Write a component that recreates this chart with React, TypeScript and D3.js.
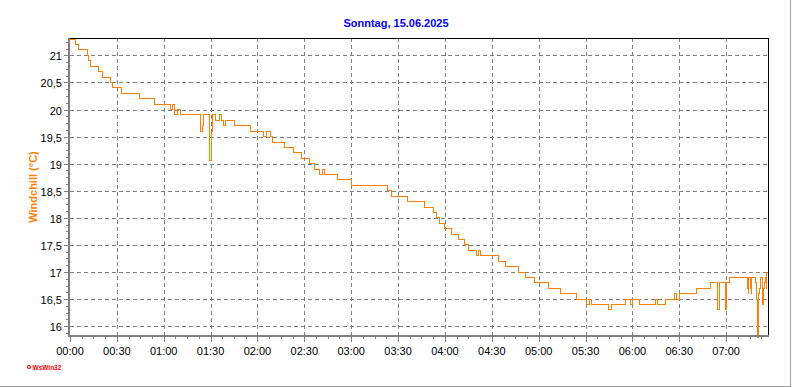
import React from 'react';
import * as d3 from 'd3';

const title = 'Sonntag, 15.06.2025';
const yAxisLabel = 'Windchill  (°C)';
const logoText = 'WsWin32';

// minutes after 00:00 where the reading changes (step data)
const minutes = [
  0, 3.5, 5.5, 11, 12, 13, 18, 21, 26, 27.5, 33, 44.5, 54, 64.5, 65.5, 67, 68.5, 71,
  83.5, 84.5, 85.5, 89, 89.5, 90.5, 91, 91.5, 93, 96, 97, 98.5, 99.5, 105.5, 115.5,
  124, 126, 128.5, 129.5, 137, 143, 148.5, 153.5, 156.5, 160, 161.5, 163, 171.5, 180,
  203, 206, 216, 227, 233, 234.5, 236.5, 240, 244, 249, 252.5, 255, 260.5, 261.5, 262.5,
  274, 279, 287, 291.5, 297.5, 306, 314, 324.5, 330.5, 332.5, 334, 345, 346.5, 355.5,
  358.5, 360, 364.5, 374.5, 376, 381, 387, 388.5, 390, 401, 410, 414.5, 415.5, 419.5,
  420.5, 422, 433.5, 434, 434.5, 435.5, 436, 436.5, 438.8, 439.2, 440, 440.7, 441.4,
  442, 443, 443.5, 444, 444.7, 445.2, 445.6, 446, 446.8,
];
const windchill = [
  21.3, 21.2, 21.1, 21.0, 20.9, 20.8, 20.7, 20.6, 20.5, 20.4, 20.3, 20.2, 20.1, 20.0, 20.1, 19.9, 20.0, 19.9,
  19.6, 19.7, 19.9, 19.3, 19.05, 19.6, 19.8, 19.9, 19.8, 19.9, 19.8, 19.7, 19.8, 19.7, 19.6,
  19.5, 19.6, 19.5, 19.4, 19.3, 19.2, 19.1, 19.0, 18.9, 18.8, 18.9, 18.8, 18.7, 18.6,
  18.5, 18.4, 18.3, 18.2, 18.1, 18.0, 17.9, 17.8, 17.7, 17.6, 17.5, 17.4, 17.3, 17.4, 17.3,
  17.2, 17.1, 17.0, 16.9, 16.8, 16.7, 16.6, 16.5, 16.4, 16.5, 16.4, 16.3, 16.4, 16.5,
  16.4, 16.5, 16.4, 16.5, 16.4, 16.5, 16.6, 16.5, 16.6, 16.7, 16.8, 16.3, 16.8, 16.3,
  16.8, 16.9, 16.7, 16.6, 16.9, 16.7, 16.6, 16.9, 16.8, 16.5, 15.8, 16.6, 16.7,
  16.9, 16.5, 16.4, 16.7, 16.8, 16.9, 16.7, 17.0, 17.0,
];

const yTickValues = [16, 16.5, 17, 17.5, 18, 18.5, 19, 19.5, 20, 20.5, 21];
const yTickLabels = ['16', '16,5', '17', '17,5', '18', '18,5', '19', '19,5', '20', '20,5', '21'];
const xTickMinutes = [0, 30, 60, 90, 120, 150, 180, 210, 240, 270, 300, 330, 360, 390, 420];
const xTickLabels = ['00:00', '00:30', '01:00', '01:30', '02:00', '02:30', '03:00', '03:30', '04:00', '04:30', '05:00', '05:30', '06:00', '06:30', '07:00'];

const FONT = '"Liberation Sans", Arial, sans-serif';

export default function App() {
  const left = 70, right = 768, top = 38, bottom = 337;
  const day = new Date(2025, 5, 15, 0, 0, 0);
  const t = (m: number) => new Date(day.getTime() + m * 60000);
  const x = d3.scaleTime().domain([t(0), t(446.8)]).range([left, right]);
  const y = d3.scaleLinear().domain([15.8, 21.32]).range([bottom, top]);

  const pts = minutes.map((m, i) => [t(m), windchill[i]] as [Date, number]);
  const line = d3.line<[Date, number]>()
    .x(d => x(d[0]))
    .y(d => y(d[1]))
    .curve(d3.curveStepAfter);

  const minorX: number[] = [];
  for (let m = 7.5; m < 446.8; m += 7.5) if (m % 30 !== 0) minorX.push(m);
  const minorY: number[] = [];
  for (let v = 15.875; v <= 21.3; v += 0.125) if (Math.abs((v * 2) - Math.round(v * 2)) > 1e-6) minorY.push(v);

  const grid = '#808080';

  return (
    <svg width={792} height={387} style={{ position: 'absolute', left: 0, top: 0, background: '#fff' }}
      fontFamily={FONT}>
      <rect x={0} y={0} width={792} height={387} fill="#fff" />
      {/* outer border */}
      <line x1={790.5} y1={0} x2={790.5} y2={387} stroke="#a0a0a0" />
      <line x1={0} y1={386.5} x2={791} y2={386.5} stroke="#a0a0a0" />

      {/* title */}
      <text x={396} y={27} textAnchor="middle" fontSize={11} fontWeight="bold" fill="#0000ff">{title}</text>

      {/* grid */}
      {yTickValues.map(v => (
        <line key={'gy' + v} x1={left} x2={right} y1={Math.round(y(v)) + 0.5} y2={Math.round(y(v)) + 0.5}
          stroke={grid} strokeDasharray="4,3" />
      ))}
      {xTickMinutes.filter(m => m > 0).map(m => (
        <line key={'gx' + m} x1={Math.round(x(t(m))) + 0.5} x2={Math.round(x(t(m))) + 0.5} y1={top} y2={bottom - 2}
          stroke={grid} strokeDasharray="4,3" />
      ))}

      {/* data line */}
      <path d={line(pts) || ''} fill="none" stroke="#ff8000" strokeWidth={1} shapeRendering="crispEdges" />

      {/* frame */}
      <line x1={68} x2={right + 1} y1={top + 0.5} y2={top + 0.5} stroke="#000" />
      <line x1={right + 0.5} x2={right + 0.5} y1={top} y2={bottom} stroke="#000" />
      <rect x={68} y={top} width={2} height={bottom - top} fill={grid} />
      <rect x={68} y={bottom - 2} width={right - 68 + 1} height={2} fill={grid} />

      {/* y ticks */}
      {yTickValues.map((v, i) => (
        <g key={'yt' + v}>
          <line x1={64} x2={68} y1={Math.round(y(v)) + 0.5} y2={Math.round(y(v)) + 0.5} stroke={grid} />
          <text x={62} y={Math.round(y(v)) + 4.5} textAnchor="end" fontSize={11} fill="#000">{yTickLabels[i]}</text>
        </g>
      ))}
      {minorY.map(v => (
        <line key={'ym' + v} x1={66} x2={68} y1={Math.round(y(v)) + 0.5} y2={Math.round(y(v)) + 0.5} stroke={grid} />
      ))}

      {/* x ticks */}
      {xTickMinutes.map((m, i) => (
        <g key={'xt' + m}>
          <line x1={Math.round(x(t(m))) + 0.5} x2={Math.round(x(t(m))) + 0.5} y1={bottom} y2={bottom + 5} stroke={grid} />
          <text x={x(t(m))} y={355} textAnchor="middle" fontSize={11} fill="#000">{xTickLabels[i]}</text>
        </g>
      ))}
      {minorX.map(m => (
        <line key={'xm' + m} x1={Math.round(x(t(m))) + 0.5} x2={Math.round(x(t(m))) + 0.5} y1={bottom} y2={bottom + 2} stroke={grid} />
      ))}

      {/* y axis label */}
      <text transform="translate(36.5,187) rotate(-90)" textAnchor="middle" fontSize={11} fontWeight="bold" fill="#ff8000">{yAxisLabel}</text>

      {/* logo */}
      <circle cx={29} cy={367} r={1.5} fill="#fff" stroke="#ff0000" strokeWidth={1.2} />
      <text x={32.5} y={369.5} fontSize={6.5} fontWeight="bold" fill="#ff0000">{logoText}</text>
    </svg>
  );
}
